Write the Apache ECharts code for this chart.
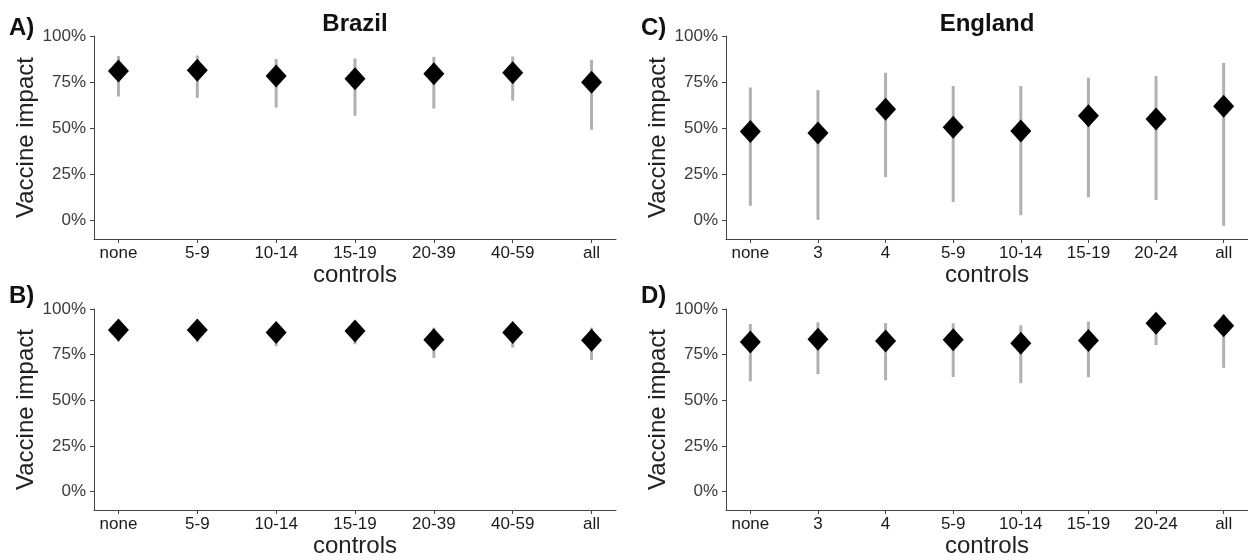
<!DOCTYPE html>
<html>
<head>
<meta charset="utf-8">
<script src="https://cdn.jsdelivr.net/npm/echarts@6/dist/echarts.min.js"></script>
<style>
html,body{margin:0;padding:0;background:#fff;}
#chart{width:1248px;height:560px;}
</style>
</head>
<body>
<div id="chart"></div>
<script>
// ---- data ----
const catBrazil = ['none','5-9','10-14','15-19','20-39','40-59','all'];
const catEngland = ['none','3','4','5-9','10-14','15-19','20-24','all'];
const yTicks = [0, 0.25, 0.5, 0.75, 1.0];

// Panel A (Brazil, top)
const aMid = [0.810, 0.814, 0.783, 0.769, 0.796, 0.801, 0.750];
const aLo  = [0.672, 0.665, 0.612, 0.568, 0.607, 0.650, 0.492];
const aHi  = [0.891, 0.894, 0.876, 0.878, 0.887, 0.889, 0.871];

// Panel B (Brazil, bottom)
const bMid = [0.885, 0.885, 0.872, 0.880, 0.832, 0.872, 0.829];
const bLo  = [0.822, 0.818, 0.796, 0.807, 0.732, 0.789, 0.721];
const bHi  = [0.910, 0.912, 0.908, 0.915, 0.898, 0.905, 0.898];

// Panel C (England, top)
const cMid = [0.483, 0.474, 0.603, 0.506, 0.485, 0.568, 0.550, 0.619];
const cLo  = [0.080, 0.004, 0.235, 0.100, 0.029, 0.126, 0.111, -0.029];
const cHi  = [0.721, 0.707, 0.801, 0.729, 0.729, 0.774, 0.783, 0.854];

// Panel D (England, bottom)
const dMid = [0.820, 0.834, 0.825, 0.832, 0.812, 0.827, 0.922, 0.909];
const dLo  = [0.605, 0.643, 0.610, 0.628, 0.594, 0.627, 0.803, 0.678];
const dHi  = [0.918, 0.927, 0.923, 0.922, 0.911, 0.931, 0.960, 0.971];

// ---- option building ----
const FONT = "'Liberation Sans', Arial, sans-serif";
const panels = [
  {cats: catBrazil,  mid: aMid, lo: aLo, hi: aHi, grid: {left: 94,  top: 36,  width: 522, height: 203}, xr: 0.31},
  {cats: catBrazil,  mid: bMid, lo: bLo, hi: bHi, grid: {left: 94,  top: 309, width: 522, height: 201}, xr: 0.31},
  {cats: catEngland, mid: cMid, lo: cLo, hi: cHi, grid: {left: 726, top: 36,  width: 522, height: 203}, xr: 0.36},
  {cats: catEngland, mid: dMid, lo: dLo, hi: dHi, grid: {left: 726, top: 309, width: 522, height: 201}, xr: 0.36}
];

const grids = [], xAxes = [], yAxes = [], series = [];
panels.forEach((p, k) => {
  grids.push(p.grid);
  const idx = p.cats.map((c, i) => i);
  xAxes.push({
    type: 'value', gridIndex: k, min: -p.xr, max: p.cats.length - 1 + p.xr,
    name: 'controls', nameLocation: 'middle', nameGap: 22,
    nameTextStyle: {fontFamily: FONT, fontSize: 24, color: '#222'},
    axisLine: {show: true, onZero: false, lineStyle: {color: '#444', width: 1}},
    axisTick: {show: true, customValues: idx, length: 4, lineStyle: {color: '#444'}},
    axisLabel: {customValues: idx, formatter: v => p.cats[Math.round(v)], fontFamily: FONT, fontSize: 17, color: '#1a1a1a', margin: 6},
    splitLine: {show: false}
  });
  yAxes.push({
    type: 'value', gridIndex: k, min: -0.1, max: 1.0,
    name: 'Vaccine impact', nameLocation: 'middle', nameGap: 51,
    nameTextStyle: {fontFamily: FONT, fontSize: 24, color: '#222'},
    axisLine: {show: true, onZero: false, lineStyle: {color: '#444', width: 1}},
    axisTick: {show: true, customValues: yTicks, length: 4, lineStyle: {color: '#444'}},
    axisLabel: {customValues: yTicks, formatter: v => Math.round(v * 100) + '%', fontFamily: FONT, fontSize: 17, color: '#3a3a3a', margin: 8},
    splitLine: {show: false}
  });
  series.push({
    type: 'custom', xAxisIndex: k, yAxisIndex: k,
    data: p.lo.map((l, i) => [i, l, p.hi[i]]),
    encode: {x: 0, y: [1, 2]},
    renderItem: (params, api) => {
      const x = api.value(0);
      const p1 = api.coord([x, api.value(1)]);
      const p2 = api.coord([x, api.value(2)]);
      return {type: 'line', shape: {x1: p1[0], y1: p1[1], x2: p2[0], y2: p2[1]},
              style: {stroke: '#b0b0b0', lineWidth: 3}};
    },
    z: 2, silent: true
  });
  series.push({
    type: 'scatter', xAxisIndex: k, yAxisIndex: k,
    data: p.mid.map((m, i) => [i, m]),
    symbol: 'diamond', symbolSize: [21, 23],
    itemStyle: {color: '#000', opacity: 1},
    z: 3, silent: true
  });
});

const txt = (x, y, s, size, align) => ({
  type: 'text', x: x, y: y,
  style: {text: s, fontFamily: FONT, fontSize: size, fontWeight: 'bold', fill: '#111', align: align, verticalAlign: 'middle'}
});

const option = {
  animation: false,
  backgroundColor: '#fff',
  grid: grids, xAxis: xAxes, yAxis: yAxes, series: series,
  graphic: [
    txt(355, 24, 'Brazil', 24, 'center'),
    txt(987, 24, 'England', 24, 'center'),
    txt(9, 28, 'A)', 24, 'left'),
    txt(9, 296, 'B)', 24, 'left'),
    txt(641, 28, 'C)', 24, 'left'),
    txt(641, 296, 'D)', 24, 'left')
  ]
};

const chart = echarts.init(document.getElementById('chart'), null, {renderer: 'canvas'});
chart.setOption(option);
</script>
</body>
</html>
